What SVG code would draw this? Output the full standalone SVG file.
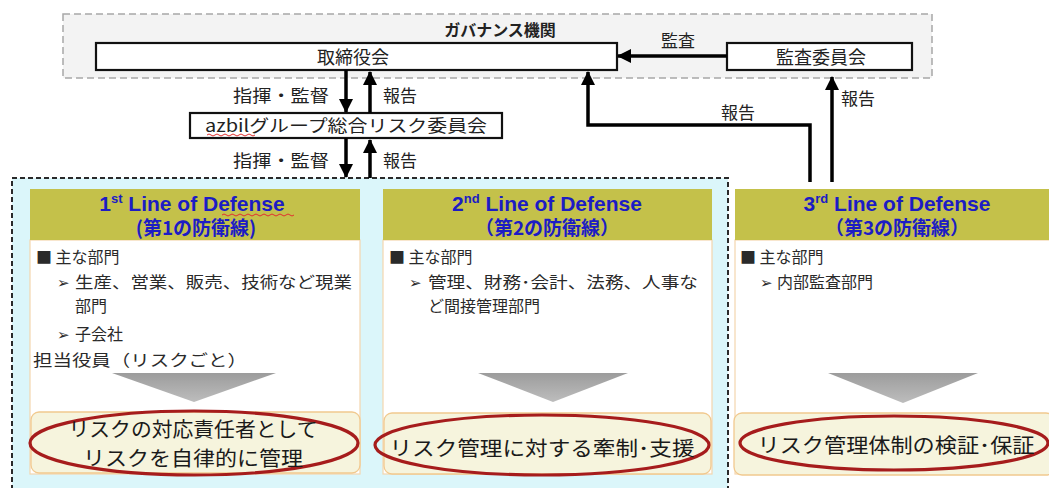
<svg xmlns="http://www.w3.org/2000/svg" width="1049" height="488" viewBox="0 0 1049 488">
<style>
.jp{font-family:"Noto Sans CJK JP","Liberation Sans",sans-serif;fill:#222}
.lbl{font-size:17px}
.body{font-size:16px;fill:#2a2a2a}
.arr{font-family:"DejaVu Sans",sans-serif;font-size:15px;fill:#2a2a2a}
.hdr{font-family:"Liberation Sans","Noto Sans CJK JP",sans-serif;font-weight:bold;fill:#1c1cc4;font-size:21px}
.hdrjp{font-family:"Noto Sans CJK JP","Liberation Sans",sans-serif;font-weight:bold;font-size:19px}
.box{fill:#fff;stroke:#111;stroke-width:2.2}
.conn{fill:none;stroke:#000;stroke-width:3.5}
.head{fill:#c4c14a}
.colbody{fill:#fff;stroke:#f3d6ae;stroke-width:1.2}
.res{fill:#f6f4dd;stroke:#f1c98f;stroke-width:1.3}
.ell{fill:none;stroke:#a61c1c;stroke-width:3.2}
.big{font-size:20px;fill:#1a1a1a}
.squig{fill:none;stroke:#e03030;stroke-width:1}
</style>
<defs>
<marker id="ah" markerUnits="userSpaceOnUse" markerWidth="14" markerHeight="14" refX="13" refY="7" orient="auto">
<path d="M0,0 L14,7 L0,14 z" fill="#000"/>
</marker>
<linearGradient id="tg" x1="0" y1="0" x2="0" y2="1">
<stop offset="0" stop-color="#9c9c9c"/>
<stop offset="1" stop-color="#bdbdbd"/>
</linearGradient>
</defs>

<g id="governance">
<rect x="63" y="14" width="869" height="64" fill="#f3f3f3" stroke="#a8a8a8" stroke-width="1.5" stroke-dasharray="7,4"/>
<text x="500" y="36" text-anchor="middle" class="jp" font-size="16" font-weight="bold" fill="#111">ガバナンス機関</text>
</g>

<g id="board">
<rect class="box" x="96" y="43" width="521" height="27"/>
<text x="353" y="64" text-anchor="middle" class="jp" font-size="18">取締役会</text>
</g>

<g id="audit-committee">
<rect class="box" x="727" y="43" width="185" height="27"/>
<text x="821" y="64" text-anchor="middle" class="jp" font-size="18">監査委員会</text>
</g>

<g id="risk-committee">
<rect class="box" x="190" y="113" width="312" height="25"/>
<text x="346" y="132" text-anchor="middle" class="jp" font-size="17" textLength="282" lengthAdjust="spacingAndGlyphs">azbilグループ総合リスク委員会</text>
<path class="squig" d="M207,135 q2,-2 4,0 t4,0 t4,0 t4,0 t4,0 t4,0 t4,0 t4,0 t4,0 t4,0 t4,0 t4,0"/>
</g>

<g id="first-second-group">
<rect x="12" y="178" width="716" height="320" fill="#dbf6fa" stroke="#2a2a2a" stroke-width="2" stroke-dasharray="5,3"/>
</g>

<g id="line1">
<rect class="colbody" x="30" y="240" width="330" height="234"/>
<rect class="head" x="30" y="189" width="330" height="51"/>
<text text-anchor="middle" class="hdr"><tspan x="192" y="211">1</tspan><tspan font-size="13" dy="-8">st</tspan><tspan dy="8"> Line of Defense</tspan><tspan x="196" y="235" class="hdrjp">(第1の防衛線)</tspan></text>
<path class="squig" d="M222,215 q2,-2 4,0 t4,0 t4,0 t4,0 t4,0 t4,0 t4,0 t4,0 t4,0 t4,0 t4,0 t4,0 t4,0 t4,0 t4,0 t4,0 t4,0 t4,0"/>
<text x="36" y="263" class="jp body">■ 主な部門</text>
<text x="57" y="288" class="arr">➢</text>
<text x="75" y="288" class="jp body" textLength="277" lengthAdjust="spacingAndGlyphs">生産、営業、販売、技術など現業</text>
<text x="75" y="312" class="jp body">部門</text>
<text x="57" y="340" class="arr">➢</text>
<text x="75" y="340" class="jp body">子会社</text>
<text x="33" y="366" class="jp body" textLength="214" lengthAdjust="spacingAndGlyphs">担当役員（リスクごと）</text>
<polygon points="112,373 276,373 194,402" fill="url(#tg)"/>
<rect class="res" x="31" y="412" width="329" height="61" rx="8"/>
<ellipse class="ell" cx="194" cy="443" rx="164" ry="32"/>
<text x="193" y="437" text-anchor="middle" class="jp big" textLength="249" lengthAdjust="spacingAndGlyphs">リスクの対応責任者として</text>
<text x="193" y="466" text-anchor="middle" class="jp big" textLength="220" lengthAdjust="spacingAndGlyphs">リスクを自律的に管理</text>
</g>

<g id="line2">
<rect class="colbody" x="383" y="240" width="329" height="234"/>
<rect class="head" x="383" y="189" width="329" height="51"/>
<text text-anchor="middle" class="hdr"><tspan x="547" y="211">2</tspan><tspan font-size="13" dy="-8">nd</tspan><tspan dy="8"> Line of Defense</tspan><tspan x="547" y="235" class="hdrjp">（第2の防衛線）</tspan></text>
<text x="389" y="263" class="jp body">■ 主な部門</text>
<text x="409" y="288" class="arr">➢</text>
<text x="428" y="288" class="jp body" textLength="270" lengthAdjust="spacingAndGlyphs">管理、財務･会計、法務、人事な</text>
<text x="428" y="312" class="jp body">ど間接管理部門</text>
<polygon points="478,373 628,373 553,402" fill="url(#tg)"/>
<rect class="res" x="384" y="413" width="327" height="61" rx="8"/>
<ellipse class="ell" cx="542" cy="445" rx="167" ry="30"/>
<text x="542" y="456" text-anchor="middle" class="jp big" textLength="305" lengthAdjust="spacingAndGlyphs">リスク管理に対する牽制･支援</text>
</g>

<g id="line3">
<rect class="colbody" x="735" y="240" width="316" height="234"/>
<rect class="head" x="735" y="189" width="316" height="51"/>
<text text-anchor="middle" class="hdr"><tspan x="897" y="211">3</tspan><tspan font-size="13" dy="-8">rd</tspan><tspan dy="8"> Line of Defense</tspan><tspan x="897" y="235" class="hdrjp">（第3の防衛線）</tspan></text>
<text x="740" y="263" class="jp body">■ 主な部門</text>
<text x="760" y="288" class="arr">➢</text>
<text x="777" y="288" class="jp body">内部監査部門</text>
<polygon points="828,373 978,373 903,403" fill="url(#tg)"/>
<rect class="res" x="734" y="413" width="320" height="62" rx="8"/>
<ellipse class="ell" cx="894" cy="443" rx="154" ry="27"/>
<text x="896" y="453" text-anchor="middle" class="jp big" textLength="277" lengthAdjust="spacingAndGlyphs">リスク管理体制の検証･保証</text>
</g>

<g id="connectors">
<line class="conn" x1="727" y1="56" x2="618" y2="56" marker-end="url(#ah)"/>
<line class="conn" x1="346" y1="70" x2="346" y2="112" marker-end="url(#ah)"/>
<line class="conn" x1="370" y1="113" x2="370" y2="72" marker-end="url(#ah)"/>
<line class="conn" x1="346" y1="138" x2="346" y2="177" marker-end="url(#ah)"/>
<line class="conn" x1="370" y1="178" x2="370" y2="140" marker-end="url(#ah)"/>
<path class="conn" d="M810,182 V125 H588 V72" marker-end="url(#ah)"/>
<line class="conn" x1="832" y1="182" x2="832" y2="77" marker-end="url(#ah)"/>
<text x="678" y="47" text-anchor="middle" class="jp lbl">監査</text>
<text x="281" y="102" text-anchor="middle" class="jp lbl" textLength="96" lengthAdjust="spacingAndGlyphs">指揮・監督</text>
<text x="400" y="102" text-anchor="middle" class="jp lbl">報告</text>
<text x="281" y="167" text-anchor="middle" class="jp lbl" textLength="96" lengthAdjust="spacingAndGlyphs">指揮・監督</text>
<text x="400" y="167" text-anchor="middle" class="jp lbl">報告</text>
<text x="738" y="119" text-anchor="middle" class="jp lbl">報告</text>
<text x="858" y="105" text-anchor="middle" class="jp lbl">報告</text>
</g>
</svg>
